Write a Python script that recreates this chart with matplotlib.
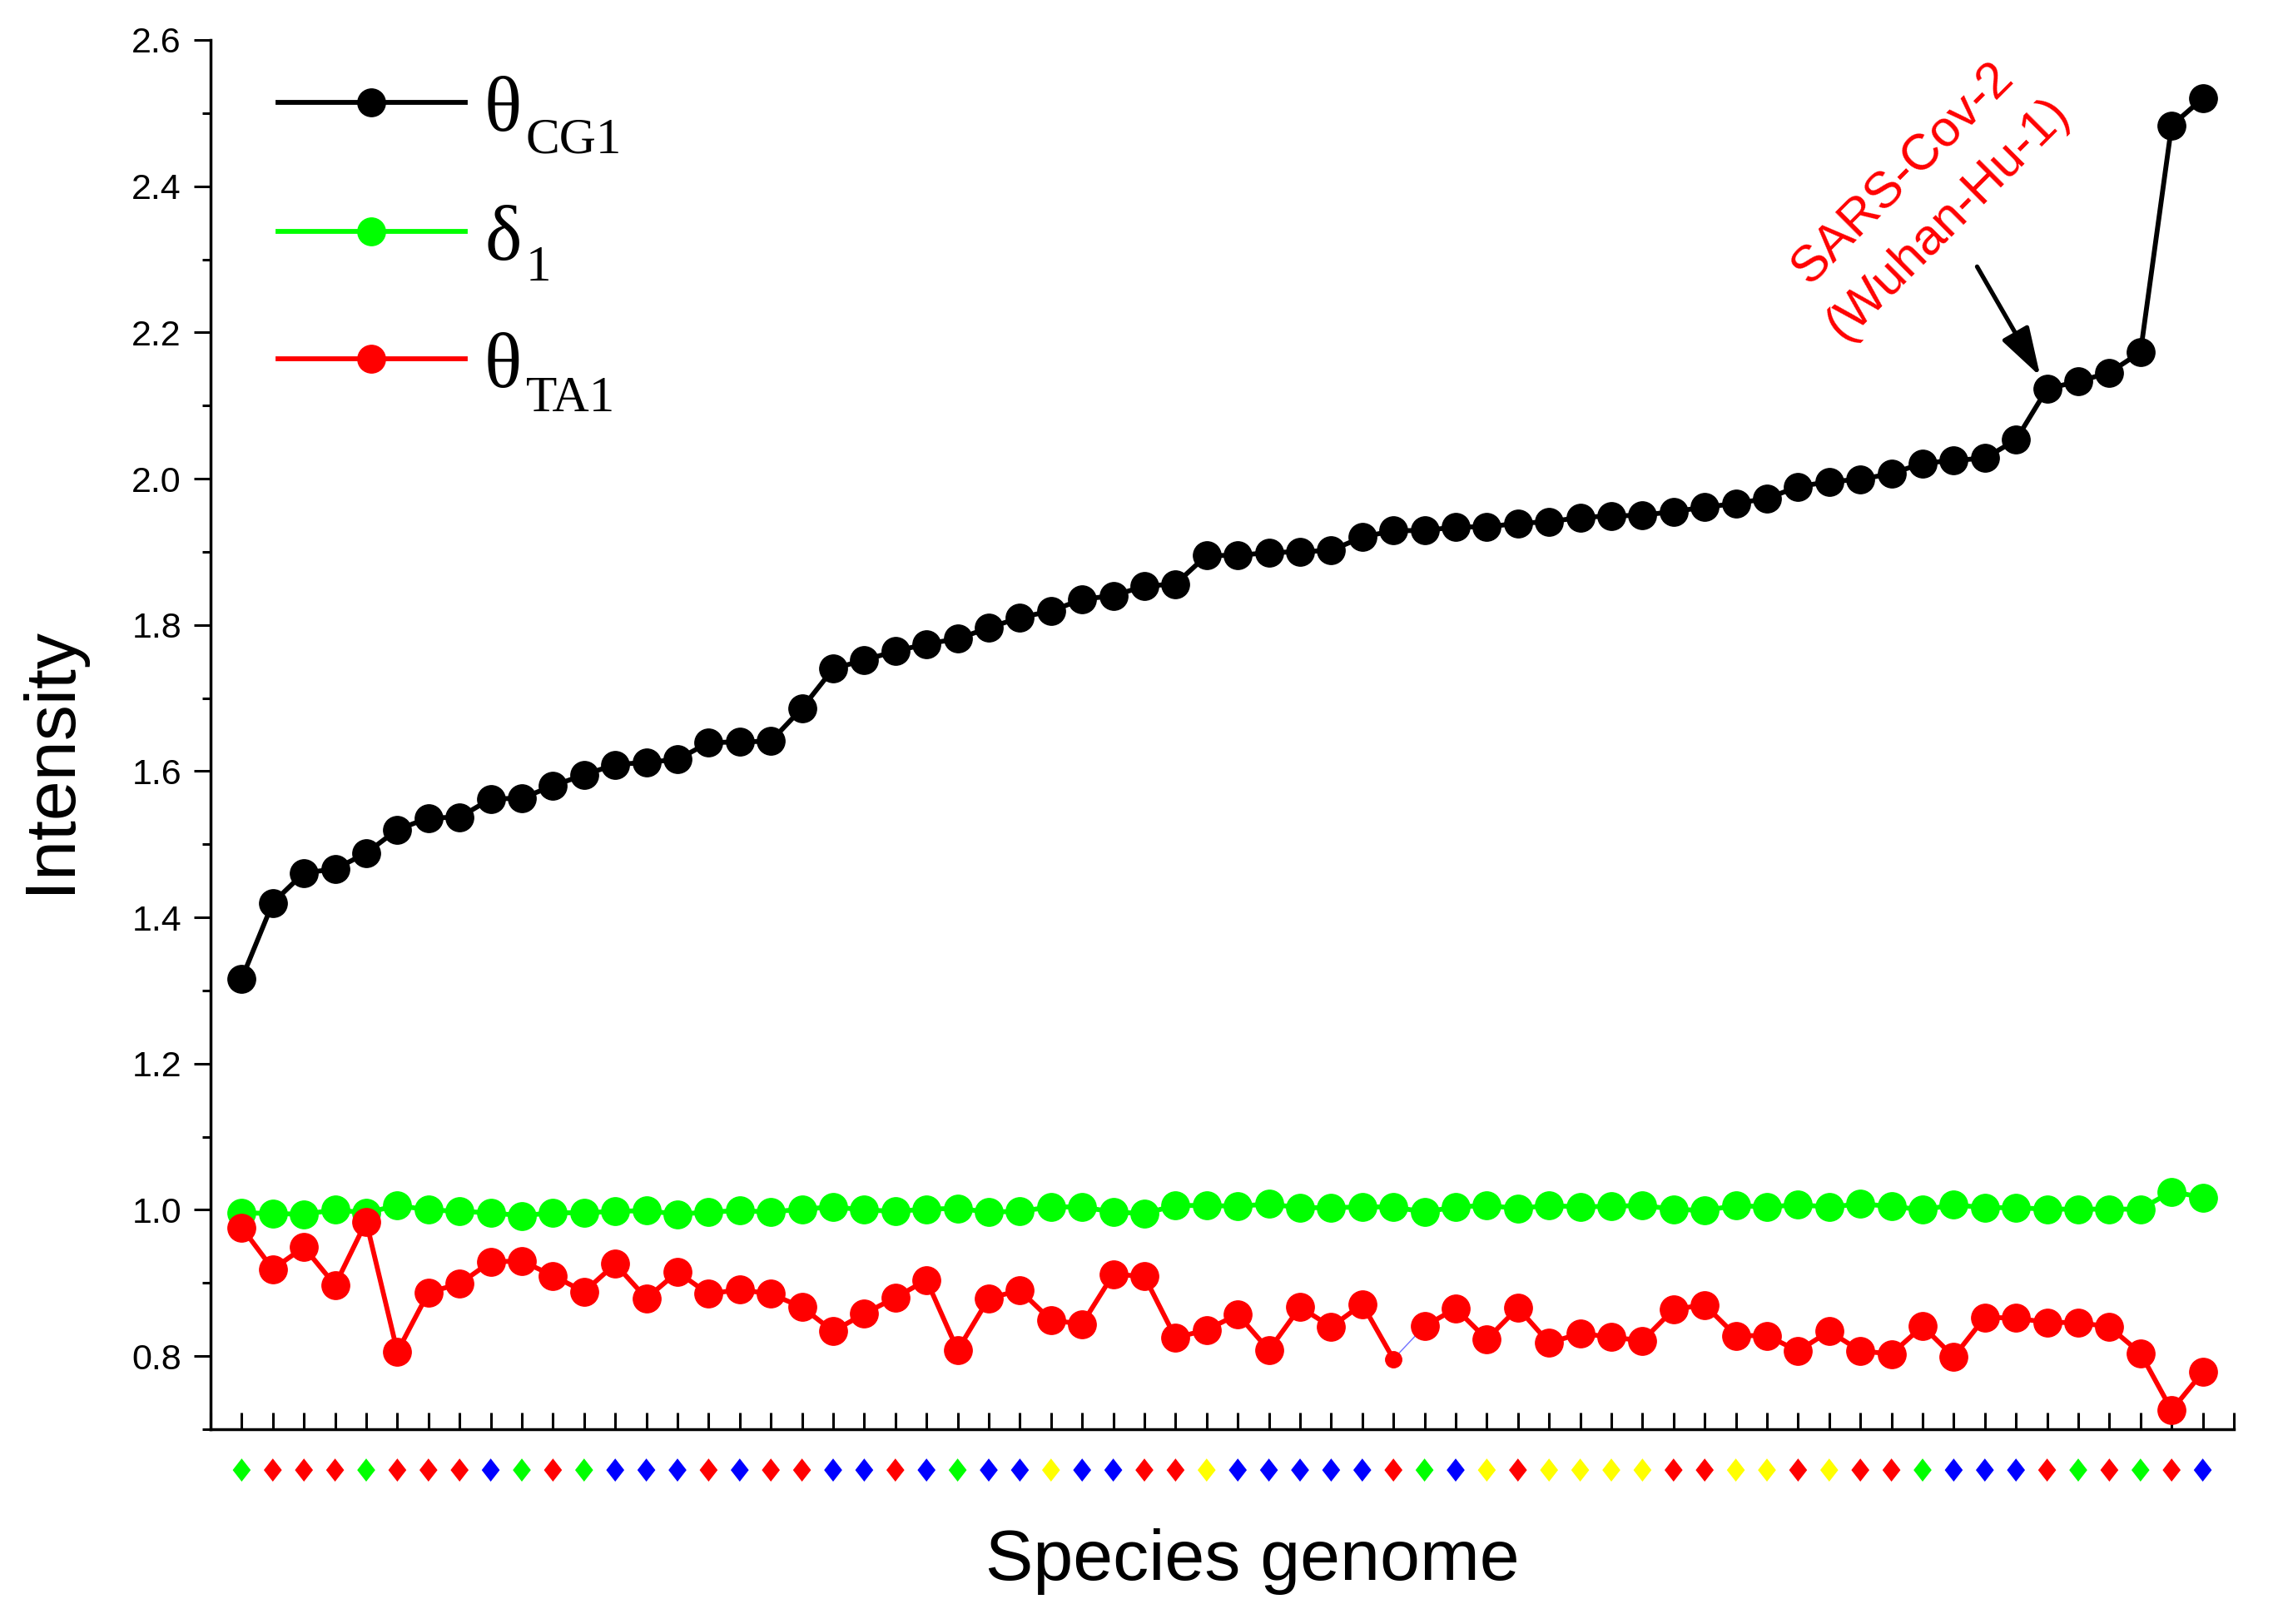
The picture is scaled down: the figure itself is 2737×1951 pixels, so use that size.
import numpy as np
import matplotlib
matplotlib.use("Agg")
import matplotlib.pyplot as plt
from matplotlib.lines import Line2D
from matplotlib.path import Path
from matplotlib.ticker import MultipleLocator, FormatStrFormatter
import matplotlib.transforms as mtransforms

# ---------------- data ----------------
theta_cg1 = [1.316, 1.420, 1.461, 1.466, 1.488, 1.520, 1.536, 1.537, 1.562, 1.563,
             1.580, 1.595, 1.609, 1.612, 1.616, 1.639, 1.640, 1.641, 1.686, 1.740,
             1.752, 1.764, 1.774, 1.781, 1.796, 1.810, 1.819, 1.835, 1.840, 1.853,
             1.856, 1.895, 1.895, 1.899, 1.900, 1.902, 1.920, 1.929, 1.929, 1.934,
             1.934, 1.939, 1.941, 1.947, 1.949, 1.950, 1.955, 1.961, 1.966, 1.973,
             1.989, 1.996, 1.999, 2.007, 2.021, 2.025, 2.028, 2.053, 2.123, 2.133,
             2.145, 2.173, 2.483, 2.520]

delta_1 = [0.996, 0.995, 0.994, 1.000, 0.996, 1.006, 1.000, 0.998, 0.996, 0.992,
           0.996, 0.996, 0.998, 0.999, 0.994, 0.997, 0.999, 0.997, 1.001, 1.004,
           1.000, 0.998, 1.001, 1.002, 0.997, 0.998, 1.004, 1.004, 0.997, 0.995,
           1.006, 1.006, 1.005, 1.008, 1.003, 1.003, 1.004, 1.004, 0.997, 1.004,
           1.006, 1.002, 1.006, 1.004, 1.005, 1.006, 1.001, 0.999, 1.006, 1.004,
           1.007, 1.004, 1.008, 1.005, 1.000, 1.007, 1.003, 1.003, 1.001, 1.001,
           1.001, 1.001, 1.025, 1.017]

theta_ta1 = [0.976, 0.919, 0.949, 0.897, 0.984, 0.806, 0.887, 0.899, 0.929, 0.930,
             0.910, 0.888, 0.926, 0.879, 0.915, 0.885, 0.891, 0.885, 0.867, 0.834,
             0.858, 0.880, 0.904, 0.808, 0.879, 0.890, 0.849, 0.844, 0.912, 0.909,
             0.825, 0.836, 0.857, 0.808, 0.867, 0.840, 0.871, 0.796, 0.841, 0.865,
             0.823, 0.866, 0.818, 0.831, 0.826, 0.821, 0.864, 0.870, 0.828, 0.828,
             0.807, 0.834, 0.807, 0.803, 0.841, 0.799, 0.853, 0.852, 0.846, 0.846,
             0.840, 0.804, 0.726, 0.778]

# group of each species genome (colour of the diamond under the axis)
genome_group = list("GRRRGRRRBG" "RGBBBRBRRB" "BRBGBBYBBR" "RYBBBBBRGB"
                    "YRYYYYRRYY" "RYRRGBBBRG" "RGRB")
group_colors = {"G": "#00FF00", "R": "#FF0000", "B": "#0000FF", "Y": "#FFFF00"}

series_labels = [("θ", "CG1"), ("δ", "1"), ("θ", "TA1")]
annotation_text = "SARS-Cov-2\n(Wuhan-Hu-1)"
odd_point = 38            # point drawn with a small marker in the original

# ---------------- style ----------------
plt.rcParams["font.family"] = ["Liberation Sans", "DejaVu Sans"]

W, H = 2737, 1951
fig = plt.figure(figsize=(W / 100, H / 100), dpi=100)
fig.patch.set_facecolor("white")

def fx(px):
    return px / W

def fy(py):
    return 1 - py / H

ax = fig.add_axes([fx(253), fy(1717), (2684 - 253) / W, (1717 - 48) / H])

BLACK, GREEN, RED = "#000000", "#00FF00", "#FF0000"
MS = 24
LW = 4.2
n = len(theta_cg1)
x = np.arange(1, n + 1)
cg = np.array(theta_cg1)
de = np.array(delta_1)
ta = np.array(theta_ta1)

ax.plot(x, cg, color=BLACK, lw=LW, marker="o", ms=MS, zorder=3, clip_on=False)
ax.plot(x, de, color=GREEN, lw=LW, marker="o", ms=MS, zorder=4, clip_on=False)

k = odd_point
ax.plot(x[:k], ta[:k], color=RED, lw=LW, zorder=5, clip_on=False)
ax.plot(x[k:], ta[k:], color=RED, lw=LW, zorder=5, clip_on=False)
ax.plot(x[k - 1:k + 1], ta[k - 1:k + 1], color="#7070FF", lw=1.0, zorder=5)
mask = np.ones(n, bool)
mask[k - 1] = False
ax.plot(x[mask], ta[mask], ls="none", marker="o", ms=MS, color=RED, zorder=6, clip_on=False)
ax.plot(x[~mask], ta[~mask], ls="none", marker="o", ms=14, color=RED, zorder=6, clip_on=False)

# axes
ax.set_xlim(0, 65)
ax.set_ylim(0.7, 2.6)
ax.set_xticks(np.arange(0, 66))
ax.set_xticklabels([])
ax.tick_params(axis="x", direction="in", length=14.4, width=2.2)
ax.yaxis.set_minor_locator(MultipleLocator(0.1))
ax.set_yticks(np.round(np.arange(0.8, 2.61, 0.2), 1))
ax.yaxis.set_major_formatter(FormatStrFormatter("%.1f"))
ax.tick_params(axis="y", which="major", direction="out", length=14.4, width=2.2,
               labelsize=31, pad=10.8)
ax.tick_params(axis="y", which="minor", direction="out", length=7.2, width=2.2)
for s in ("top", "right"):
    ax.spines[s].set_visible(False)
for s in ("left", "bottom"):
    ax.spines[s].set_linewidth(2.5)

# diamonds under the axis
diamond = Path([(0, 1), (0.78, 0), (0, -1), (-0.78, 0), (0, 1)],
               [Path.MOVETO, Path.LINETO, Path.LINETO, Path.LINETO, Path.CLOSEPOLY])
trans = mtransforms.blended_transform_factory(ax.transData, ax.transAxes)
ax.scatter(x, np.full(n, -0.0294), marker=diamond, s=20 ** 2,
           c=[group_colors[g] for g in genome_group], linewidths=0,
           transform=trans, clip_on=False, zorder=2)

# axis labels
fig.text(fx(61), fy(912), "Intensity", rotation=90, ha="center", va="center", fontsize=62)
fig.text(fx(1505), fy(1876), "Species genome", ha="center", va="center", fontsize=62)

# annotation
ax.text(55.1, 2.386, annotation_text, rotation=45, rotation_mode="anchor",
        ha="center", va="center", multialignment="center", color=RED,
        fontsize=44, linespacing=1.45)
ax.annotate("", xy=(58.78, 2.140), xytext=(56.75, 2.290),
            arrowprops=dict(arrowstyle="-|>,head_length=0.9,head_width=0.28",
                            lw=3.8, color=BLACK, shrinkA=0, shrinkB=0,
                            mutation_scale=40))

# manual legend
rows = [(123, 157, 184, BLACK), (278, 312, 337, GREEN), (431, 465, 494, RED)]
for (ymid, base, subbase, col), (sym, sub) in zip(rows, series_labels):
    fig.add_artist(Line2D([fx(334), fx(559)], [fy(ymid), fy(ymid)],
                          transform=fig.transFigure, color=col, lw=LW))
    fig.add_artist(Line2D([fx(446)], [fy(ymid)], transform=fig.transFigure,
                          color=col, marker="o", ms=MS, ls="none"))
    fig.text(fx(582), fy(base), sym, fontsize=68, family=["Liberation Serif", "DejaVu Serif"],
             ha="left", va="baseline")
    fig.text(fx(632), fy(subbase), sub, fontsize=44, family=["Liberation Serif", "DejaVu Serif"],
             ha="left", va="baseline")

fig.savefig("out.png", dpi=100, facecolor="white")
